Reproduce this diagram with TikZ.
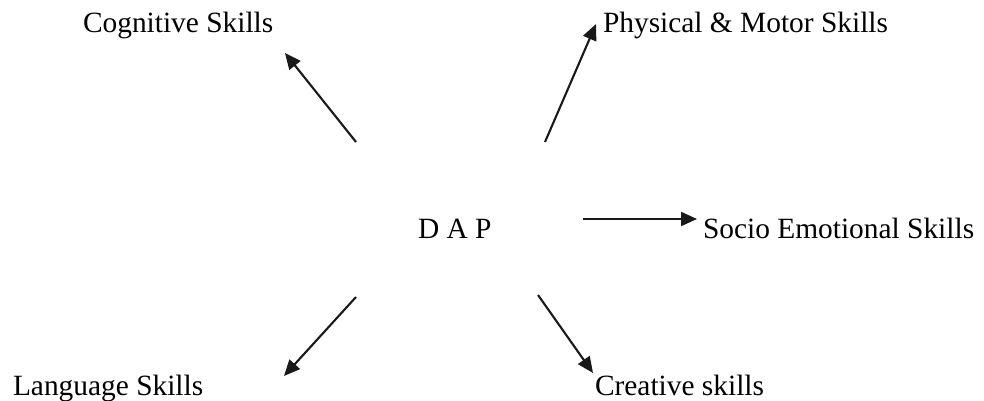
\documentclass[tikz,border=0pt]{standalone}
\usepackage{fontspec}
\setmainfont{Liberation Serif}
\usetikzlibrary{arrows.meta}
\begin{document}
\begin{tikzpicture}[x=0.5pt,y=-0.5pt,
  label/.style={anchor=base west,inner sep=0pt,outer sep=0pt,font=\fontsize{14.7}{17}\selectfont},
  link/.style={draw=black!90,line width=1.05pt,-{Triangle[length=8pt,width=7pt]}}]
\useasboundingbox (0,0) rectangle (984,401);
% labels
\node[label] (dap)  at (418,238) {D A P};
\node[label] (cog)  at (83,33)   {Cognitive Skills};
\node[label] (phys) at (603,33)  {Physical \& Motor Skills};
\node[label] (soc)  at (703,238) {Socio Emotional Skills};
\node[label] (lang) at (13,395)  {Language Skills};
\node[label] (cre)  at (595,395) {Creative skills};
% arrow ends around the centre
\coordinate (s1) at (356,142); \coordinate (e1) at (285,53);
\coordinate (s2) at (545,142); \coordinate (e2) at (596,24);
\coordinate (s3) at (583,219); \coordinate (e3) at (697,219);
\coordinate (s4) at (356,297); \coordinate (e4) at (284,376);
\coordinate (s5) at (538,295); \coordinate (e5) at (593,373);
\draw[link] (s1) -- (e1);
\draw[link] (s2) -- (e2);
\draw[link] (s3) -- (e3);
\draw[link] (s4) -- (e4);
\draw[link] (s5) -- (e5);
\end{tikzpicture}
\end{document}
